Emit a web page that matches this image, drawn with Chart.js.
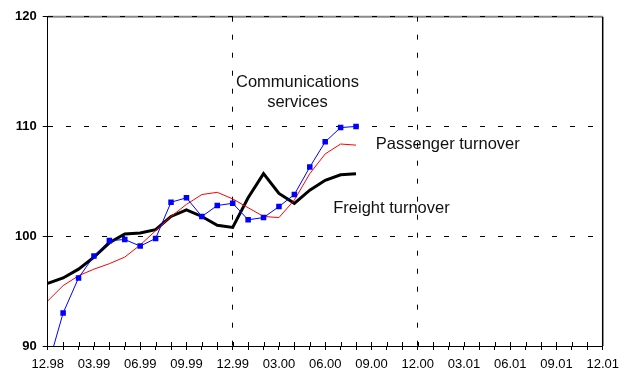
<!DOCTYPE html>
<html>
<head>
<meta charset="utf-8">
<script src="https://cdn.jsdelivr.net/npm/chart.js@4.4.1/dist/chart.umd.min.js"></script>
<style>
  html, body { margin: 0; padding: 0; background: #fff; }
  #wrap { width: 631px; height: 372px; }
</style>
</head>
<body>
<div id="wrap"><canvas id="c" width="631" height="372"></canvas></div>
<script>
// Monthly categories, 12.98 .. 12.01
const months = [
  '12.98','01.99','02.99','03.99','04.99','05.99','06.99','07.99','08.99','09.99','10.99','11.99',
  '12.99','01.00','02.00','03.00','04.00','05.00','06.00','07.00','08.00','09.00','10.00','11.00',
  '12.00','01.01','02.01','03.01','04.01','05.01','06.01','07.01','08.01','09.01','10.01','11.01',
  '12.01'
];

// Quarterly tick labels shown under the axis
const tickLabels = ['12.98','03.99','06.99','09.99','12.99','03.00','06.00','09.00','12.00','03.01','06.01','09.01','12.01'];

// Index values, 12.98 .. 08.00
const communications = [88.1, 93.0, 96.2, 98.2, 99.6, 99.7, 99.1, 99.8, 103.1, 103.5, 101.8, 102.8,
                        103.0, 101.5, 101.7, 102.7, 103.8, 106.3, 108.6, 109.9, 110.0];
const passenger      = [94.1, 95.5, 96.4, 97.0, 97.5, 98.1, 99.2, 100.5, 101.8, 102.9, 103.8, 104.0,
                        103.4, 102.6, 101.8, 101.7, 103.3, 105.7, 107.5, 108.4, 108.3];
const freight        = [95.7, 96.2, 97.0, 98.1, 99.4, 100.2, 100.3, 100.6, 101.8, 102.4, 101.8, 101.0,
                        100.8, 103.5, 105.7, 103.9, 103.0, 104.2, 105.1, 105.6, 105.7];

const yTicks = [90, 100, 110, 120];

const FONT = '"Liberation Sans", Arial, Helvetica, sans-serif';

// Free-floating series names, placed in data coordinates
const notes = [
  { text: 'Communications', x: 16.2, y: 114.05, align: 'center' },
  { text: 'services',       x: 16.2, y: 112.23, align: 'center' },
  { text: 'Passenger turnover', x: 21.28, y: 108.35, align: 'left' },
  { text: 'Freight turnover',   x: 18.52, y: 102.52, align: 'left' }
];

const frame = {
  id: 'frame',
  beforeDraw(chart) {
    const { ctx, chartArea: a } = chart;
    ctx.save();
    ctx.strokeStyle = '#8a8a8a';
    ctx.lineWidth = 2;
    ctx.beginPath();
    ctx.moveTo(a.left, a.top);
    ctx.lineTo(a.right, a.top);
    ctx.stroke();
    ctx.restore();
  },
  beforeDatasetsDraw(chart) {
    const { ctx, chartArea: a, scales } = chart;
    ctx.save();
    // right frame edge
    ctx.strokeStyle = '#000';
    ctx.lineWidth = 1.5;
    ctx.beginPath();
    ctx.moveTo(a.right, a.top);
    ctx.lineTo(a.right, a.bottom);
    ctx.stroke();
    // inner halves of the monthly tick marks
    ctx.lineWidth = 1;
    ctx.beginPath();
    for (let i = 1; i < months.length - 1; i++) {
      const x = Math.round(scales.x.getPixelForValue(i)) + 0.5;
      ctx.moveTo(x, a.bottom);
      ctx.lineTo(x, a.bottom - 4);
    }
    ctx.stroke();
    ctx.restore();
  },
  afterDatasetsDraw(chart) {
    const { ctx, scales } = chart;
    ctx.save();
    ctx.fillStyle = '#111';
    ctx.font = '16.5px ' + FONT;
    ctx.textBaseline = 'middle';
    notes.forEach(n => {
      ctx.textAlign = n.align;
      ctx.fillText(n.text, scales.x.getPixelForValue(n.x), scales.y.getPixelForValue(n.y));
    });
    ctx.restore();
  }
};

new Chart(document.getElementById('c'), {
  type: 'line',
  data: {
    labels: months,
    datasets: [
      {
        label: 'Communications services',
        data: communications,
        borderColor: '#0000ff',
        backgroundColor: '#0000ff',
        borderWidth: 1,
        pointStyle: 'rect',
        pointRadius: 3.9,
        pointBorderWidth: 0,
        tension: 0
      },
      {
        label: 'Passenger turnover',
        data: passenger,
        borderColor: '#ff0000',
        borderWidth: 1,
        pointRadius: 0,
        tension: 0
      },
      {
        label: 'Freight turnover',
        data: freight,
        borderColor: '#000000',
        borderWidth: 3,
        pointRadius: 0,
        tension: 0
      }
    ]
  },
  options: {
    responsive: false,
    animation: false,
    devicePixelRatio: 1,
    layout: { padding: { left: 0, top: 16.7, right: 28.3, bottom: 0 } },
    plugins: { legend: { display: false }, tooltip: { enabled: false } },
    scales: {
      x: {
        type: 'category',
        offset: false,
        afterFit(s) { s.height = 26; },
        grid: {
          color: c => (c.index % 12 === 0 && c.index !== 0 && c.index !== months.length - 1) ? '#000' : 'rgba(0,0,0,0)',
          lineWidth: 1,
          tickColor: '#000',
          tickLength: 4,
          tickBorderDash: []
        },
        border: { display: true, color: '#000', width: 1, dash: [5, 13] },
        ticks: {
          autoSkip: false,
          maxRotation: 0,
          minRotation: 0,
          padding: 7,
          color: '#000',
          font: { family: FONT, size: 13 },
          callback: (v, i) => tickLabels.includes(months[i]) && i % 3 === 0 ? months[i] : ''
        }
      },
      y: {
        min: yTicks[0],
        max: yTicks[yTicks.length - 1],
        afterFit(s) { s.width = 47.7; },
        afterBuildTicks(s) { s.ticks = yTicks.map(v => ({ value: v })); },
        grid: {
          color: c => (c.tick && c.tick.value === yTicks[0]) ? 'rgba(0,0,0,0)' : '#000',
          lineWidth: 1,
          tickColor: '#000',
          tickLength: 5,
          tickBorderDash: []
        },
        border: { display: true, color: '#000', width: 1, dash: [5, 13] },
        ticks: {
          padding: 6,
          color: '#000',
          font: { family: FONT, size: 13, weight: 'bold' }
        }
      }
    }
  },
  plugins: [frame]
});
</script>
</body>
</html>
